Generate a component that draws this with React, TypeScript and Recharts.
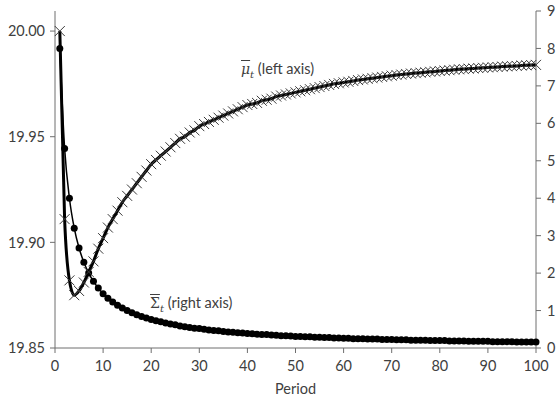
import React from 'react';
import { LineChart, Line, XAxis, YAxis } from 'recharts';

const periods = [
  1, 2, 3, 4, 5, 6, 7, 8, 9, 10, 11, 12, 13, 14, 15, 16, 17, 18, 19, 20,
  21, 22, 23, 24, 25, 26, 27, 28, 29, 30, 31, 32, 33, 34, 35, 36, 37, 38, 39, 40,
  41, 42, 43, 44, 45, 46, 47, 48, 49, 50, 51, 52, 53, 54, 55, 56, 57, 58, 59, 60,
  61, 62, 63, 64, 65, 66, 67, 68, 69, 70, 71, 72, 73, 74, 75, 76, 77, 78, 79, 80,
  81, 82, 83, 84, 85, 86, 87, 88, 89, 90, 91, 92, 93, 94, 95, 96, 97, 98, 99, 100,
];

const muBar = [
  20.0, 19.911, 19.882, 19.875, 19.877, 19.881, 19.886, 19.891, 19.897, 19.902,
  19.907, 19.911, 19.915, 19.919, 19.922, 19.925, 19.928, 19.931, 19.934, 19.937,
  19.939, 19.941, 19.943, 19.945, 19.947, 19.949, 19.95, 19.952, 19.953, 19.955,
  19.956, 19.957, 19.958, 19.959, 19.96, 19.961, 19.962, 19.963, 19.964, 19.965,
  19.9655, 19.966, 19.967, 19.9675, 19.968, 19.969, 19.9695, 19.97, 19.9705, 19.971,
  19.9715, 19.972, 19.9725, 19.973, 19.9735, 19.974, 19.9745, 19.975, 19.9753, 19.9757,
  19.976, 19.9764, 19.9768, 19.9771, 19.9774, 19.9777, 19.978, 19.9783, 19.9786, 19.9789,
  19.9792, 19.9794, 19.9797, 19.9799, 19.9801, 19.9803, 19.9805, 19.9807, 19.9809, 19.9811,
  19.9813, 19.9815, 19.9817, 19.9819, 19.982, 19.9822, 19.9823, 19.9825, 19.9826, 19.9828,
  19.9829, 19.983, 19.9832, 19.9833, 19.9834, 19.9835, 19.9837, 19.9838, 19.9839, 19.984,
];

const sigmaBar = [
  8.0, 5.33, 4.0, 3.2, 2.67, 2.29, 2.0, 1.78, 1.6, 1.45,
  1.33, 1.23, 1.14, 1.07, 1.0, 0.94, 0.89, 0.84, 0.8, 0.76,
  0.73, 0.7, 0.67, 0.64, 0.62, 0.59, 0.57, 0.55, 0.53, 0.52,
  0.5, 0.48, 0.47, 0.46, 0.44, 0.43, 0.42, 0.41, 0.4, 0.39,
  0.38, 0.37, 0.36, 0.36, 0.35, 0.34, 0.33, 0.33, 0.32, 0.31,
  0.31, 0.3, 0.3, 0.29, 0.29, 0.28, 0.28, 0.27, 0.27, 0.26,
  0.26, 0.25, 0.25, 0.25, 0.24, 0.24, 0.24, 0.23, 0.23, 0.23,
  0.22, 0.22, 0.22, 0.21, 0.21, 0.21, 0.21, 0.2, 0.2, 0.2,
  0.2, 0.19, 0.19, 0.19, 0.19, 0.18, 0.18, 0.18, 0.18, 0.18,
  0.17, 0.17, 0.17, 0.17, 0.17, 0.16, 0.16, 0.16, 0.16, 0.16,
];

const xTicks = [0, 10, 20, 30, 40, 50, 60, 70, 80, 90, 100];
const leftTicks = [19.85, 19.9, 19.95, 20.0];
const rightTicks = [0, 1, 2, 3, 4, 5, 6, 7, 8, 9];

const data = periods.map((t, i) => ({ t, mu: muBar[i], sigma: sigmaBar[i] }));

const FONT = 'Lato, "Liberation Sans", sans-serif';
const AXIS = '#6e6e6e';
const TXT = '#404040';

const XDot = (props: any) => {
  const { cx, cy, index } = props;
  if (cx == null || cy == null) return <g key={`x-${index}`} />;
  const s = 5;
  return (
    <path
      key={`x-${index}`}
      d={`M${cx - s},${cy - s}L${cx + s},${cy + s}M${cx - s},${cy + s}L${cx + s},${cy - s}`}
      stroke="#3a3a3a"
      strokeWidth={1}
      fill="none"
    />
  );
};

const tickStyle = { fontFamily: FONT, fontSize: 14.5, fill: TXT };

export default function App() {
  return (
    <div style={{ position: 'absolute', left: 0, top: 0, width: 556, height: 400, background: '#fff' }}>
      <LineChart
        width={556}
        height={400}
        data={data}
        margin={{ top: 11, right: 0, bottom: 0, left: 0 }}
      >
        <XAxis
          dataKey="t"
          type="number"
          domain={[0, 100]}
          ticks={xTicks}
          height={52}
          stroke={AXIS}
          tickSize={5}
          tickMargin={8}
          tick={tickStyle}
          label={{ value: 'Period', position: 'insideBottom', offset: 6, style: { fontFamily: FONT, fontSize: 14.5, fill: TXT } }}
        />
        <YAxis
          yAxisId="left"
          orientation="left"
          domain={[19.85, 20.0095]}
          ticks={leftTicks}
          width={55}
          stroke={AXIS}
          tickSize={5}
          tickMargin={5}
          tick={tickStyle}
          tickFormatter={(v: number) => v.toFixed(2)}
          allowDataOverflow
        />
        <YAxis
          yAxisId="right"
          orientation="right"
          domain={[0, 9]}
          ticks={rightTicks}
          width={20}
          stroke={AXIS}
          tickSize={5}
          tickMargin={6}
          tick={tickStyle}
          allowDataOverflow
        />
        <Line
          yAxisId="right"
          dataKey="sigma"
          type="monotone"
          stroke="#000"
          strokeWidth={1.5}
          dot={{ r: 3.5, fill: '#000', stroke: '#000', strokeWidth: 0 }}
          isAnimationActive={false}
        />
        <Line
          yAxisId="left"
          dataKey="mu"
          type="monotone"
          stroke="#000"
          strokeWidth={3}
          dot={XDot}
          isAnimationActive={false}
        />
      </LineChart>
      <div
        style={{
          position: 'absolute', left: 241, top: 59, fontFamily: FONT, fontSize: 14.5,
          color: TXT, whiteSpace: 'nowrap', lineHeight: '20px',
        }}
      >
        <span style={{ fontFamily: '"DejaVu Serif", serif', fontStyle: 'italic', textDecoration: 'overline', fontSize: 14 }}>μ</span>
        <sub style={{ fontFamily: '"DejaVu Serif", serif', fontStyle: 'italic', fontSize: 10 }}>t</sub>
        <span> (left axis)</span>
      </div>
      <div
        style={{
          position: 'absolute', left: 150, top: 293, fontFamily: FONT, fontSize: 14.5,
          color: TXT, whiteSpace: 'nowrap', lineHeight: '20px',
        }}
      >
        <span style={{ fontFamily: '"DejaVu Serif", serif', textDecoration: 'overline', fontSize: 14 }}>Σ</span>
        <sub style={{ fontFamily: '"DejaVu Serif", serif', fontStyle: 'italic', fontSize: 10 }}>t</sub>
        <span> (right axis)</span>
      </div>
    </div>
  );
}
